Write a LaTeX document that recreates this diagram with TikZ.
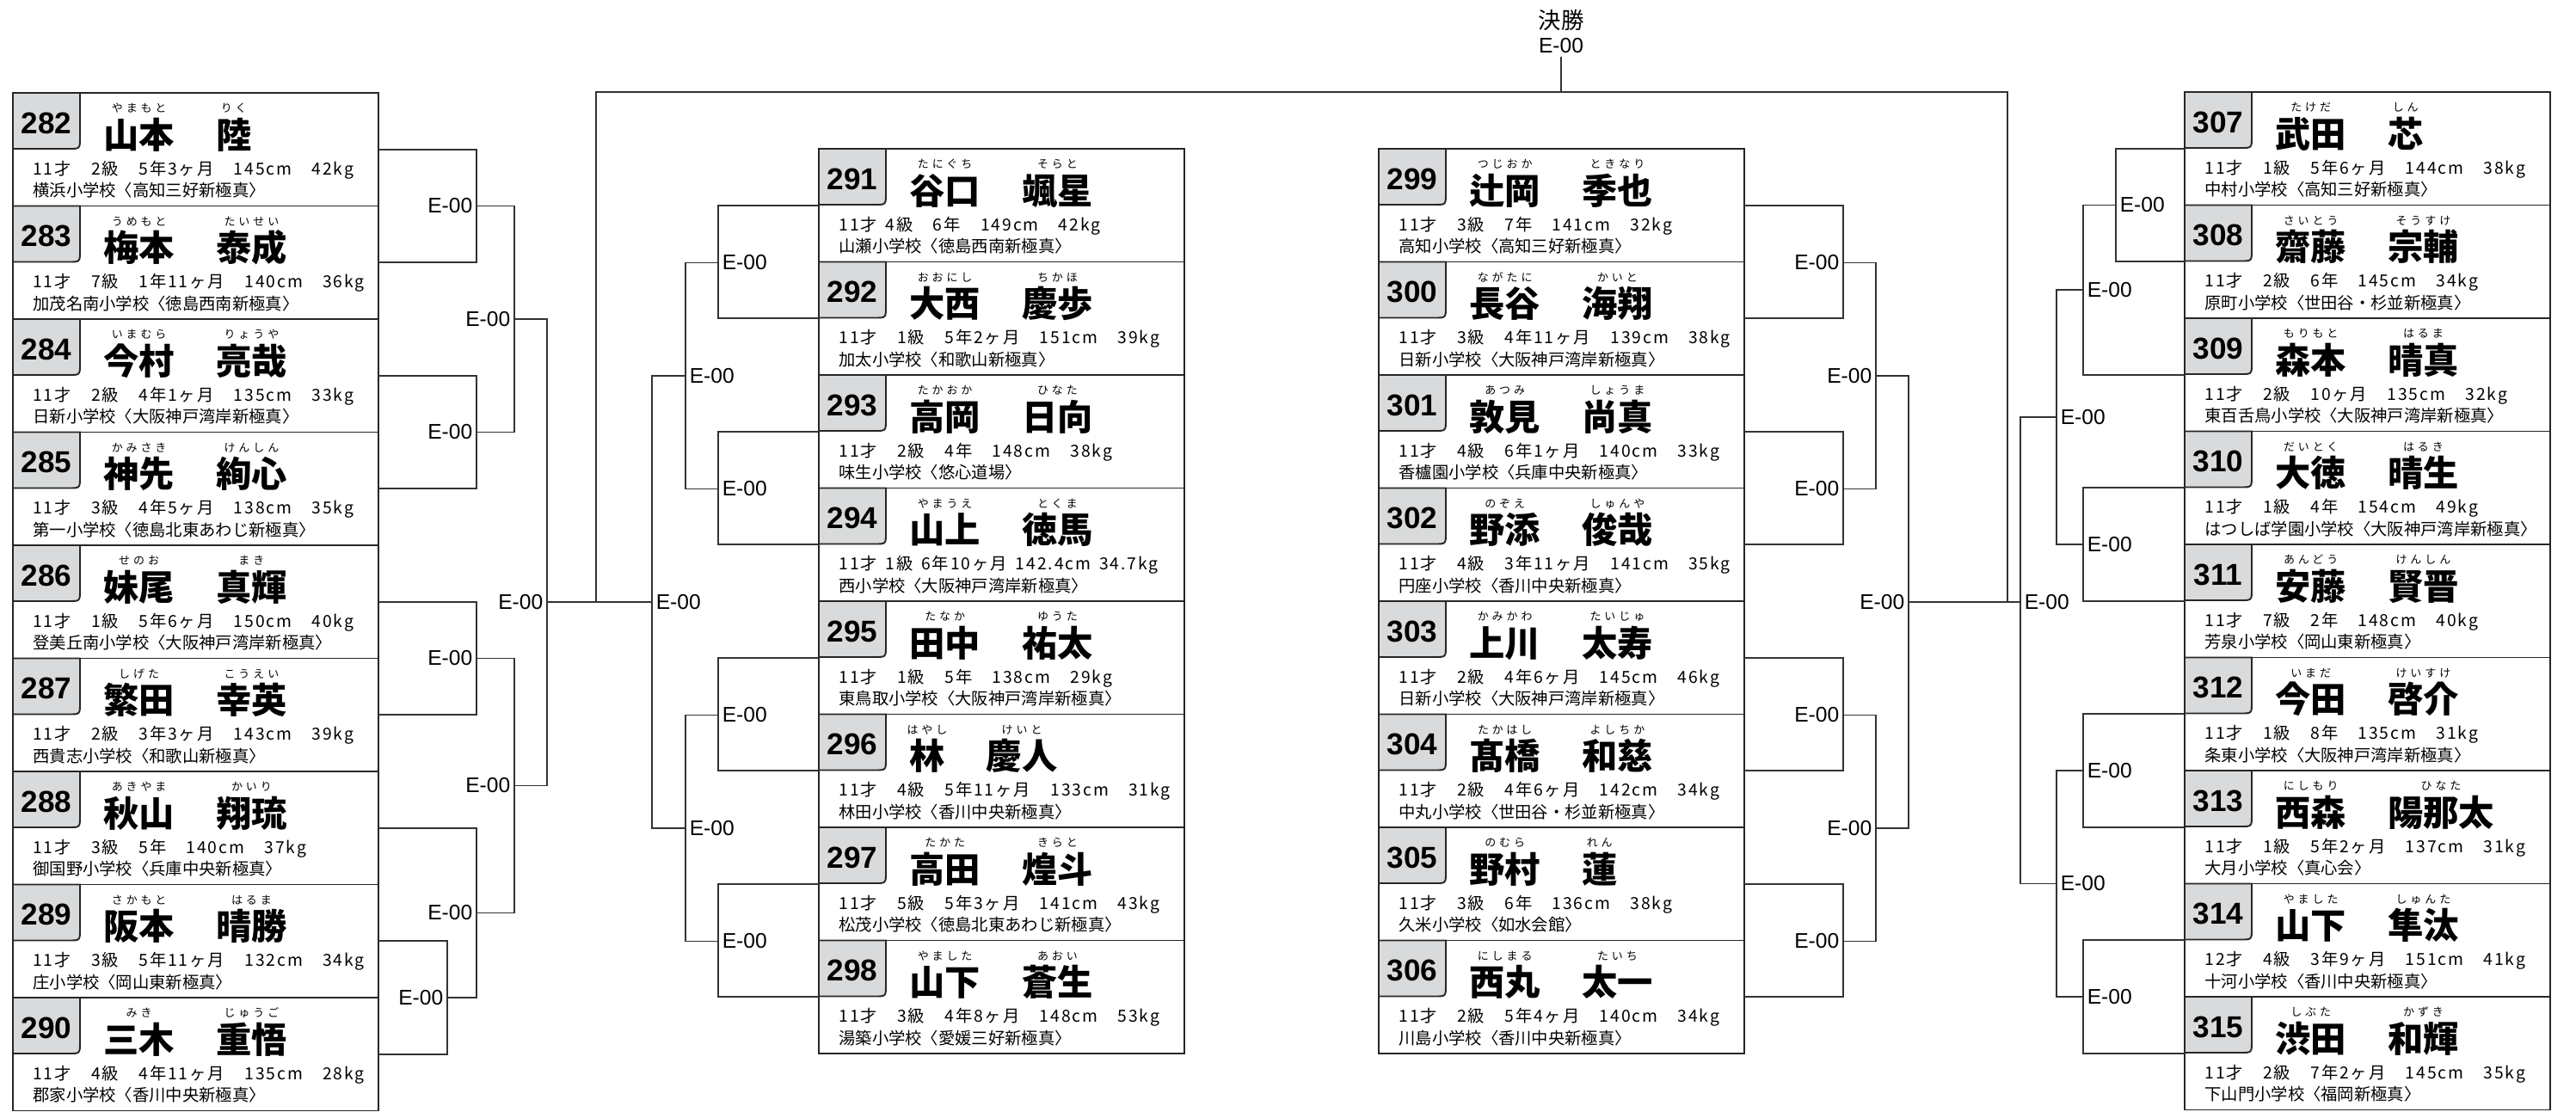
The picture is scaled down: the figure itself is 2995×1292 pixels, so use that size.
\documentclass[tikz,border=0pt]{standalone}
\usepackage{fontspec}
\setmainfont{Noto Sans CJK JP}
\newfontfamily\kanafont{Noto Sans CJK JP}[LetterSpace=30]
\newfontfamily\infofont{Noto Sans CJK JP}[LetterSpace=10]
\newfontfamily\numfont{Liberation Sans}
\usetikzlibrary{positioning}
\definecolor{tabgray}{RGB}{217,218,219}
\newcommand{\player}[9]{%
    \node[boxStyle] (p#1) at (#2, #3) {};
    \filldraw[tabStyle] (#2, #3) -- (#2 + 78, #3) -- (#2 + 78, #3 + 52) .. controls (#2 + 78, #3 + 65) .. (#2 + 65, #3 + 65) -- (#2, #3 + 65) -- cycle;
    \node[numStyle] (p#1_n) at (#2 + 39, #3 + 47) {#1};
    \node[nameStyle] (p#1_s) at (#2 + 105, #3 + 64) {#5};
    \node[nameStyle, base right=0.95cm of p#1_s] (p#1_g) {#7};
    \node[kanaStyle] (p#1_sk) at (p#1_s.north) {#4};
    \node[kanaStyle] (p#1_gk) at (p#1_g.north) {#6};
    \node[infoStyle] (p#1_i) at (#2 + 23, #3 + 95) {#8};
    \node[schoolStyle] (p#1_c) at (#2 + 23, #3 + 120.5) {#9};
}
\begin{document}
\begin{tikzpicture}[x=0.02cm, y=-0.02cm,
    boxStyle/.style={rectangle, draw=black!85, line width=1.1pt, anchor=north west, minimum width=8.5cm, minimum height=2.63cm, inner sep=0pt, outer sep=0pt},
    tabStyle/.style={fill=tabgray, draw=black!85, line width=1.1pt},
    numStyle/.style={font=\numfont\bfseries\fontsize{20}{20}\selectfont, anchor=base, inner sep=0pt},
    nameStyle/.style={font=\bfseries\fontsize{23.5}{24}\selectfont, anchor=base west, inner sep=0pt, text height=0.7cm},
    kanaStyle/.style={font=\kanafont\fontsize{7.4}{8}\selectfont, anchor=base, inner sep=0pt, yshift=0.12cm},
    infoStyle/.style={font=\infofont\fontsize{11}{12}\selectfont, anchor=base west, inner sep=0pt},
    schoolStyle/.style={font=\fontsize{11}{12}\selectfont, anchor=base west, inner sep=0pt},
    wireStyle/.style={draw=black!80, line width=0.9pt},
    labelStyle/.style={font=\numfont\fontsize{14}{14}\selectfont, inner sep=2.5pt}]

    \useasboundingbox (0, 0) rectangle (2995, 1292);

    \player{282}{15}{108}{やまもと}{山本}{りく}{陸}{11才　2級　5年3ヶ月　145cm　42kg}{横浜小学校〈高知三好新極真〉}
    \player{283}{15}{239.5}{うめもと}{梅本}{たいせい}{泰成}{11才　7級　1年11ヶ月　140cm　36kg}{加茂名南小学校〈徳島西南新極真〉}
    \player{284}{15}{371}{いまむら}{今村}{りょうや}{亮哉}{11才　2級　4年1ヶ月　135cm　33kg}{日新小学校〈大阪神戸湾岸新極真〉}
    \player{285}{15}{502.5}{かみさき}{神先}{けんしん}{絢心}{11才　3級　4年5ヶ月　138cm　35kg}{第一小学校〈徳島北東あわじ新極真〉}
    \player{286}{15}{634}{せのお}{妹尾}{まき}{真輝}{11才　1級　5年6ヶ月　150cm　40kg}{登美丘南小学校〈大阪神戸湾岸新極真〉}
    \player{287}{15}{765.5}{しげた}{繁田}{こうえい}{幸英}{11才　2級　3年3ヶ月　143cm　39kg}{西貴志小学校〈和歌山新極真〉}
    \player{288}{15}{897}{あきやま}{秋山}{かいり}{翔琉}{11才　3級　5年　140cm　37kg}{御国野小学校〈兵庫中央新極真〉}
    \player{289}{15}{1028.5}{さかもと}{阪本}{はるま}{晴勝}{11才　3級　5年11ヶ月　132cm　34kg}{庄小学校〈岡山東新極真〉}
    \player{290}{15}{1160}{みき}{三木}{じゅうご}{重悟}{11才　4級　4年11ヶ月　135cm　28kg}{郡家小学校〈香川中央新極真〉}

    \player{291}{952}{173}{たにぐち}{谷口}{そらと}{颯星}{11才\enspace 4級　6年　149cm　42kg}{山瀬小学校〈徳島西南新極真〉}
    \player{292}{952}{304.5}{おおにし}{大西}{ちかほ}{慶歩}{11才　1級　5年2ヶ月　151cm　39kg}{加太小学校〈和歌山新極真〉}
    \player{293}{952}{436}{たかおか}{高岡}{ひなた}{日向}{11才　2級　4年　148cm　38kg}{味生小学校〈悠心道場〉}
    \player{294}{952}{567.5}{やまうえ}{山上}{とくま}{徳馬}{11才\enspace 1級\enspace 6年10ヶ月\enspace 142.4cm\enspace 34.7kg}{西小学校〈大阪神戸湾岸新極真〉}
    \player{295}{952}{699}{たなか}{田中}{ゆうた}{祐太}{11才　1級　5年　138cm　29kg}{東鳥取小学校〈大阪神戸湾岸新極真〉}
    \player{296}{952}{830.5}{はやし}{林}{けいと}{慶人}{11才　4級　5年11ヶ月　133cm　31kg}{林田小学校〈香川中央新極真〉}
    \player{297}{952}{962}{たかた}{高田}{きらと}{煌斗}{11才　5級　5年3ヶ月　141cm　43kg}{松茂小学校〈徳島北東あわじ新極真〉}
    \player{298}{952}{1093.5}{やました}{山下}{あおい}{蒼生}{11才　3級　4年8ヶ月　148cm　53kg}{湯築小学校〈愛媛三好新極真〉}

    \player{299}{1603}{173}{つじおか}{辻岡}{ときなり}{季也}{11才　3級　7年　141cm　32kg}{高知小学校〈高知三好新極真〉}
    \player{300}{1603}{304.5}{ながたに}{長谷}{かいと}{海翔}{11才　3級　4年11ヶ月　139cm　38kg}{日新小学校〈大阪神戸湾岸新極真〉}
    \player{301}{1603}{436}{あつみ}{敦見}{しょうま}{尚真}{11才　4級　6年1ヶ月　140cm　33kg}{香櫨園小学校〈兵庫中央新極真〉}
    \player{302}{1603}{567.5}{のぞえ}{野添}{しゅんや}{俊哉}{11才　4級　3年11ヶ月　141cm　35kg}{円座小学校〈香川中央新極真〉}
    \player{303}{1603}{699}{かみかわ}{上川}{たいじゅ}{太寿}{11才　2級　4年6ヶ月　145cm　46kg}{日新小学校〈大阪神戸湾岸新極真〉}
    \player{304}{1603}{830.5}{たかはし}{髙橋}{よしちか}{和慈}{11才　2級　4年6ヶ月　142cm　34kg}{中丸小学校〈世田谷・杉並新極真〉}
    \player{305}{1603}{962}{のむら}{野村}{れん}{蓮}{11才　3級　6年　136cm　38kg}{久米小学校〈如水会館〉}
    \player{306}{1603}{1093.5}{にしまる}{西丸}{たいち}{太一}{11才　2級　5年4ヶ月　140cm　34kg}{川島小学校〈香川中央新極真〉}

    \player{307}{2540}{107}{たけだ}{武田}{しん}{芯}{11才　1級　5年6ヶ月　144cm　38kg}{中村小学校〈高知三好新極真〉}
    \player{308}{2540}{238.5}{さいとう}{齋藤}{そうすけ}{宗輔}{11才　2級　6年　145cm　34kg}{原町小学校〈世田谷・杉並新極真〉}
    \player{309}{2540}{370}{もりもと}{森本}{はるま}{晴真}{11才　2級　10ヶ月　135cm　32kg}{東百舌鳥小学校〈大阪神戸湾岸新極真〉}
    \player{310}{2540}{501.5}{だいとく}{大徳}{はるき}{晴生}{11才　1級　4年　154cm　49kg}{はつしば学園小学校〈大阪神戸湾岸新極真〉}
    \player{311}{2540}{633}{あんどう}{安藤}{けんしん}{賢晋}{11才　7級　2年　148cm　40kg}{芳泉小学校〈岡山東新極真〉}
    \player{312}{2540}{764.5}{いまだ}{今田}{けいすけ}{啓介}{11才　1級　8年　135cm　31kg}{条東小学校〈大阪神戸湾岸新極真〉}
    \player{313}{2540}{896}{にしもり}{西森}{ひなた}{陽那太}{11才　1級　5年2ヶ月　137cm　31kg}{大月小学校〈真心会〉}
    \player{314}{2540}{1027.5}{やました}{山下}{しゅんた}{隼汰}{12才　4級　3年9ヶ月　151cm　41kg}{十河小学校〈香川中央新極真〉}
    \player{315}{2540}{1159}{しぶた}{渋田}{かずき}{和輝}{11才　2級　7年2ヶ月　145cm　35kg}{下山門小学校〈福岡新極真〉}

    \coordinate (L1) at (554, 239.5);
    \coordinate (L2) at (554, 502.5);
    \coordinate (L3) at (598, 371);
    \coordinate (L4) at (554, 765.5);
    \coordinate (L5) at (520, 1160);
    \coordinate (L6) at (554, 1061.4);
    \coordinate (L7) at (598, 913.4);
    \coordinate (L8) at (636, 700);

    \coordinate (M1) at (835, 305.5);
    \coordinate (M2) at (835, 568.5);
    \coordinate (M3) at (835, 831.5);
    \coordinate (M4) at (835, 1094.5);
    \coordinate (M5) at (797, 437);
    \coordinate (M6) at (797, 963);
    \coordinate (M7) at (758, 700);

    \coordinate (N1) at (2143, 305.5);
    \coordinate (N2) at (2143, 568.5);
    \coordinate (N3) at (2143, 831.5);
    \coordinate (N4) at (2143, 1094.5);
    \coordinate (N5) at (2181, 437);
    \coordinate (N6) at (2181, 963);
    \coordinate (N7) at (2219, 700);

    \coordinate (R1) at (2460, 238.5);
    \coordinate (R2) at (2422, 337.1);
    \coordinate (R3) at (2422, 633);
    \coordinate (R4) at (2391, 485);
    \coordinate (R5) at (2422, 896);
    \coordinate (R6) at (2422, 1159);
    \coordinate (R7) at (2391, 1027.5);
    \coordinate (R8) at (2349, 700);

    \coordinate (S1) at (693, 700);
    \coordinate (S2) at (2334, 700);
    \coordinate (F) at (1815, 107);

    \draw[wireStyle] (p282.east) -| (L1) |- (p283.east);
    \draw[wireStyle] (p284.east) -| (L2) |- (p285.east);
    \draw[wireStyle] (L1) -| (L3) |- (L2);
    \draw[wireStyle] (p286.east) -| (L4) |- (p287.east);
    \draw[wireStyle] (p289.east) -| (L5) |- (p290.east);
    \draw[wireStyle] (p288.east) -| (L6) |- (L5);
    \draw[wireStyle] (L4) -| (L7) |- (L6);
    \draw[wireStyle] (L3) -| (L8) |- (L7);

    \draw[wireStyle] (p291.west) -| (M1) |- (p292.west);
    \draw[wireStyle] (p293.west) -| (M2) |- (p294.west);
    \draw[wireStyle] (p295.west) -| (M3) |- (p296.west);
    \draw[wireStyle] (p297.west) -| (M4) |- (p298.west);
    \draw[wireStyle] (M1) -| (M5) |- (M2);
    \draw[wireStyle] (M3) -| (M6) |- (M4);
    \draw[wireStyle] (M5) -| (M7) |- (M6);

    \draw[wireStyle] (p299.east) -| (N1) |- (p300.east);
    \draw[wireStyle] (p301.east) -| (N2) |- (p302.east);
    \draw[wireStyle] (p303.east) -| (N3) |- (p304.east);
    \draw[wireStyle] (p305.east) -| (N4) |- (p306.east);
    \draw[wireStyle] (N1) -| (N5) |- (N2);
    \draw[wireStyle] (N3) -| (N6) |- (N4);
    \draw[wireStyle] (N5) -| (N7) |- (N6);

    \draw[wireStyle] (p307.west) -| (R1) |- (p308.west);
    \draw[wireStyle] (R1) -| (R2) |- (p309.west);
    \draw[wireStyle] (p310.west) -| (R3) |- (p311.west);
    \draw[wireStyle] (R2) -| (R4) |- (R3);
    \draw[wireStyle] (p312.west) -| (R5) |- (p313.west);
    \draw[wireStyle] (p314.west) -| (R6) |- (p315.west);
    \draw[wireStyle] (R5) -| (R7) |- (R6);
    \draw[wireStyle] (R4) -| (R8) |- (R7);

    \draw[wireStyle] (L8) -- (M7);
    \draw[wireStyle] (N7) -- (R8);
    \draw[wireStyle] (S1) |- (F) -| (S2);

    \foreach \j in {L1, L2, L3, L4, L5, L6, L7, L8, N1, N2, N3, N4, N5, N6, N7}
        \node[labelStyle, left=0pt of \j] (e\j) {E-00};
    \foreach \j in {M1, M2, M3, M4, M5, M6, M7, R1, R2, R3, R4, R5, R6, R7, R8}
        \node[labelStyle, right=0pt of \j] (e\j) {E-00};

    \node[labelStyle] (eF) at (1815, 53) {E-00};
    \node[font=\fontsize{15}{15}\selectfont, inner sep=0pt] (tF) at (1815, 23) {決勝};
    \draw[wireStyle] (eF.south) -- (F);
\end{tikzpicture}
\end{document}
